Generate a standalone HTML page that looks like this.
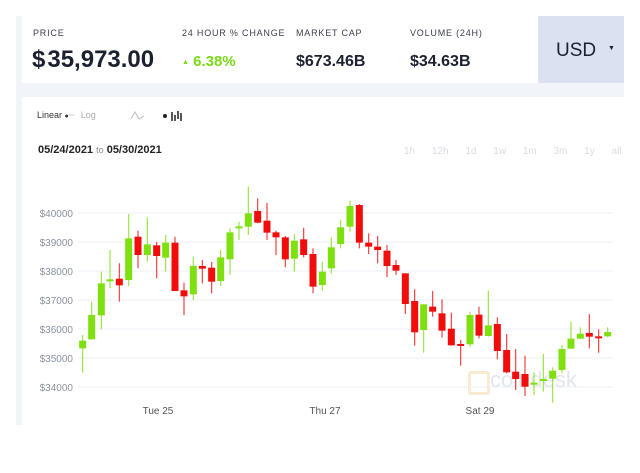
<!DOCTYPE html>
<html><head><meta charset="utf-8"><style>
body{margin:0;width:640px;height:473px;background:#fff;font-family:"Liberation Sans",sans-serif;position:relative;overflow:hidden}
.a{position:absolute;white-space:nowrap}
.lab{font-size:9px;letter-spacing:0.8px;color:#3a3f4e}
.big{font-weight:bold;color:#1c2130}
</style></head><body>
<div class="a" style="left:16px;top:16px;width:608px;height:409px;background:#f1f4f9"></div>
<div class="a" style="left:22px;top:16px;width:516px;height:67px;background:#fff"></div>
<div class="a" style="left:538px;top:16px;width:86px;height:67px;background:#dbe1f1"></div>
<div class="a" style="left:22px;top:97px;width:602px;height:328px;background:#fff"></div>
<div class="a lab" style="left:33px;top:28px">PRICE</div>
<div class="a lab" style="left:182px;top:28px">24 HOUR % CHANGE</div>
<div class="a lab" style="left:296px;top:28px">MARKET CAP</div>
<div class="a lab" style="left:410px;top:28px">VOLUME (24H)</div>
<div class="a big" style="left:32px;top:46px;font-size:24px">$&#8202;35,973.00</div>
<div class="a" style="left:182px;top:53px;font-size:15px;font-weight:bold;color:#7ad916"><span style="font-size:7px;vertical-align:2px">▲</span> 6.38%</div>
<div class="a big" style="left:296px;top:53px;font-size:16px">$673.46B</div>
<div class="a big" style="left:410px;top:53px;font-size:16px">$34.63B</div>
<div class="a" style="left:556px;top:40px;font-size:19px;color:#1c2130">USD</div>
<div class="a" style="left:608px;top:45px;font-size:7px;color:#1c2130">▼</div>
<div class="a" style="left:37px;top:110px;font-size:9px;color:#333">Linear <span style="font-size:7px">●</span><span style="color:#ddd">━</span> <span style="color:#aaa;margin-left:4px">Log</span></div>
<svg class="a" style="left:130px;top:110px" width="60" height="12"><path d="M1,9 L5,2 L9,9 L14,6" stroke="#bbb" fill="none"/><circle cx="35" cy="6" r="2" fill="#222"/><path d="M42,2v9M45,5v6M48,1v8M51,3v8" stroke="#222" stroke-width="1.5"/></svg>
<div class="a" style="left:38px;top:144px;font-size:11px;font-weight:bold;color:#222">05/24/2021 <span style="font-weight:normal;color:#888;font-size:9px">to</span> 05/30/2021</div>
<div class="a" style="left:404px;top:146px;font-size:10px;color:#d9dbe4;word-spacing:14px">1h 12h 1d 1w 1m 3m 1y all</div>
<div class="a" style="left:490px;top:367px;font-size:22px;color:#e2e6ee">coindesk</div>
<div class="a" style="left:468px;top:371px;width:16px;height:18px;border:3px solid #f8ebcf;border-radius:3px"></div>
<svg class="a" style="left:0;top:0" width="640" height="473">
<g stroke="#eceff5" stroke-width="1">
<line x1="78" x2="613" y1="213" y2="213"/><line x1="78" x2="613" y1="242" y2="242"/><line x1="78" x2="613" y1="271" y2="271"/><line x1="78" x2="613" y1="300" y2="300"/><line x1="78" x2="613" y1="329" y2="329"/><line x1="78" x2="613" y1="358" y2="358"/><line x1="78" x2="613" y1="387" y2="387"/>
</g>
<g font-size="10" fill="#8a92a2" text-anchor="end">
<text x="73" y="217">$40000</text><text x="73" y="246">$39000</text><text x="73" y="275">$38000</text><text x="73" y="304">$37000</text><text x="73" y="333">$36000</text><text x="73" y="362">$35000</text><text x="73" y="391">$34000</text>
</g>
<g font-size="10" fill="#555" text-anchor="middle">
<text x="158" y="414">Tue 25</text><text x="325" y="414">Thu 27</text><text x="480" y="414">Sat 29</text>
</g>
<g id="c" transform="translate(20,180) scale(0.33333)"></g>
<g id="d" transform="translate(320,180) scale(0.33333)"></g>
</svg>
<script>
var A=[[188,482,505,465,578,1],[215,405,478,365,478,1],[244,310,406,275,448,1],[270,298,302,210,325,1],[298,296,316,250,365,0],[326,175,300,102,318,1],[354,170,225,152,265,0],[382,193,225,112,245,1],[410,196,228,186,295,0],[437,188,233,165,275,1],[465,188,333,170,333,0],[492,331,349,308,405,0],[520,258,343,230,360,1],[547,258,266,240,310,0],[575,263,305,246,340,0],[602,232,303,210,318,1],[630,157,238,145,285,1],[657,139,143,125,180,1],[685,100,140,20,165,1],[713,93,128,55,130,0],[741,122,158,68,180,0],[768,157,172,152,225,0],[796,172,238,168,262,0],[823,182,236,162,275,1],[851,178,225,143,232,0],[879,222,320,205,340,0],[907,275,315,245,333,1],[934,202,265,172,280,1]];
var B=[[62,142,192,120,205,1],[90,78,140,62,155,1],[118,75,188,72,205,0],[146,188,200,160,222,0],[173,200,210,168,250,0],[201,212,258,195,292,0],[228,255,272,240,285,0],[256,280,372,280,402,0],[284,363,457,328,497,0],[311,373,450,373,518,1],[338,380,395,333,410,0],[366,400,452,358,473,0],[394,446,496,398,497,0],[422,492,498,480,557,0],[450,405,493,395,500,1],[477,404,467,380,475,0],[505,436,468,332,470,1],[532,432,513,412,538,0],[560,510,577,462,580,0],[587,575,597,507,630,0],[615,582,620,527,648,0],[642,608,614,577,645,1],[670,597,603,522,635,1],[698,572,596,562,668,1],[726,507,570,495,580,1],[753,476,506,425,506,1],[781,461,476,442,476,1],[808,459,470,402,505,0],[836,469,473,448,518,0],[863,456,469,442,472,1]];
function draw(id,L){var s='';L.forEach(function(c){var col=c[5]?'#7ee00f':'#f20d0d';s+='<line x1="'+c[0]+'" x2="'+c[0]+'" y1="'+c[3]+'" y2="'+c[4]+'" stroke="'+col+'" stroke-width="3.5" opacity="0.8"/>';var h=Math.max(c[2]-c[1],6);s+='<rect x="'+(c[0]-10.5)+'" y="'+c[1]+'" width="21" height="'+h+'" fill="'+col+'"/>';});document.getElementById(id).innerHTML=s;}
draw('c',A);draw('d',B);
</script>
</body></html>
